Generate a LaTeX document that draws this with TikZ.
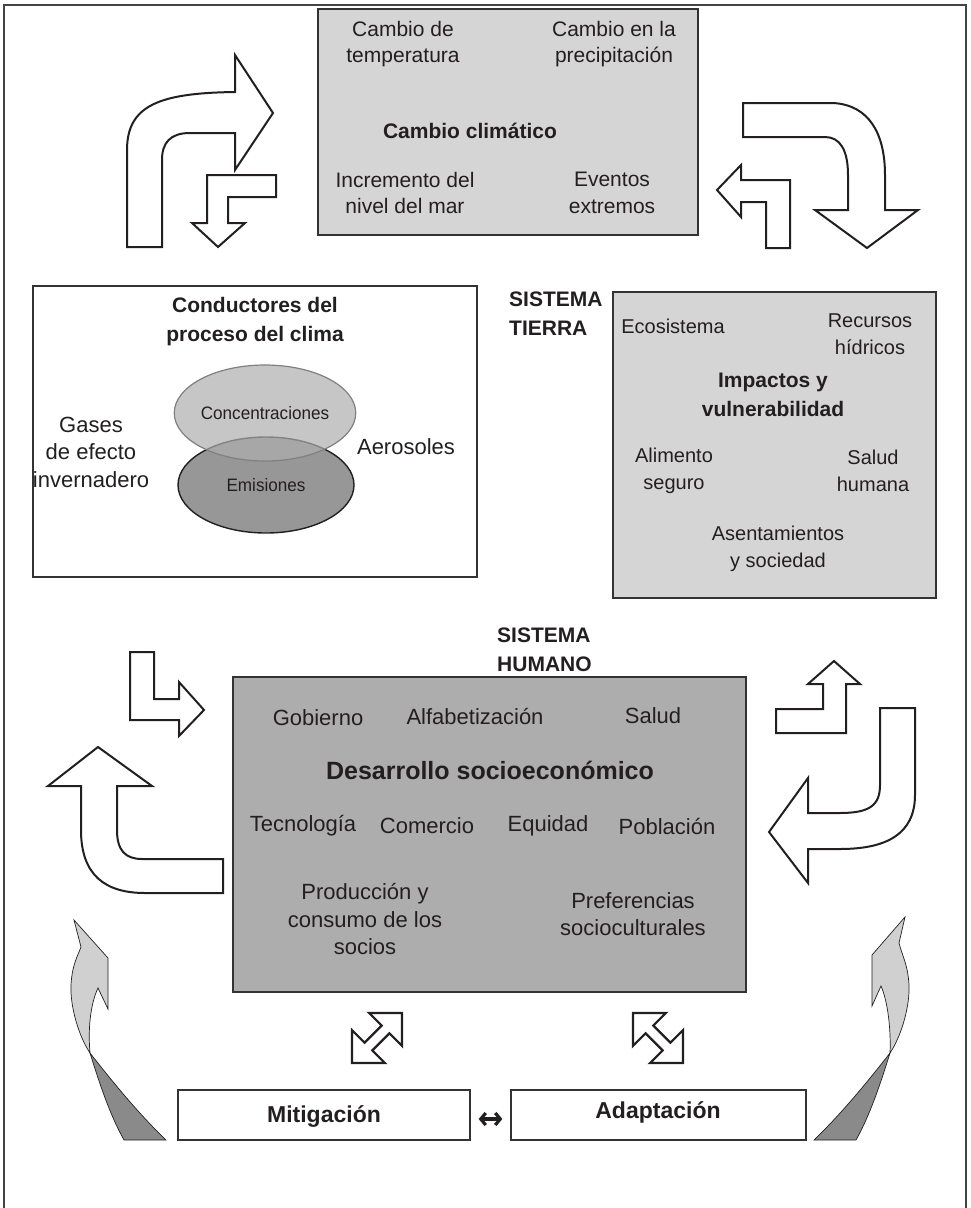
\documentclass[tikz,border=0pt]{standalone}
\usepackage{fontspec}
\usepackage{graphicx}
\setmainfont{Liberation Sans}
\usetikzlibrary{shapes.geometric,arrows.meta}

\definecolor{ink}{HTML}{231F20}
\definecolor{frameline}{HTML}{444444}
\definecolor{boxline}{HTML}{333333}
\definecolor{lightbox}{HTML}{D5D5D6}
\definecolor{darkbox}{HTML}{ADADAD}
\definecolor{concfill}{HTML}{AEAEAE}
\definecolor{emisfill}{HTML}{979797}
\definecolor{swirllight}{HTML}{D0D0D0}
\definecolor{swirldark}{HTML}{8A8A8A}

\tikzset{
  txt/.style={font=\fontsize{22}{27.5}\selectfont, text=ink, align=center, inner sep=0pt},
  txtS/.style={txt, font=\fontsize{20}{27.5}\selectfont},
  txtM/.style={txt, font=\fontsize{21}{26.5}\selectfont},
  ttl/.style={txt, font=\fontsize{21}{29}\selectfont\bfseries},
  panel/.style={draw=boxline, line width=1.3pt, inner sep=0pt},
  blockarrow/.style={draw=ink, fill=white, line width=2pt, line join=miter},
  swirl/.style={draw=ink, line width=0.7pt, fill=swirllight},
  swirltail/.style={draw=ink, line width=0.7pt, fill=swirldark},
  diagarrow/.style={draw=ink, fill=white, line width=2.2pt, line join=miter},
}

\begin{document}
\begin{tikzpicture}[x=1pt,y=-1pt]
\useasboundingbox (0,0) rectangle (970,1208);

% outer frame
\draw[frameline, line width=2pt] (4,1220) -- (4,5) -- (966,5) -- (966,1220);

% ---------- panels ----------
\node[panel, fill=lightbox, minimum width=380pt, minimum height=226pt] (clim) at (508,122) {};
\node[panel, fill=white, minimum width=444pt, minimum height=291pt] (drv) at (255,431.5) {};
\node[panel, fill=lightbox, minimum width=323pt, minimum height=306pt] (imp) at (774.5,445) {};
\node[panel, fill=darkbox, minimum width=513pt, minimum height=315pt] (dev) at (489.5,834.5) {};
\node[panel, fill=white, minimum width=292pt, minimum height=50pt] (mit) at (324,1115) {};
\node[panel, fill=white, minimum width=295pt, minimum height=50pt] (ada) at (658.5,1115) {};

% ---------- climate change ----------
\node[txtM] (temp) at (403,44) {Cambio de\\temperatura};
\node[txtM] (prec) at (614,44) {Cambio en la\\precipitación};
\node[ttl] (climT) at (470,131) {Cambio climático};
\node[txtM] (sea) at (405,193) {Incremento del\\nivel del mar};
\node[txtM] (ext) at (612,193) {Eventos\\extremos};

% ---------- drivers ----------
\node[ttl] (drvT) at (255,322) {Conductores del\\proceso del clima};
\node[ellipse, draw=ink, line width=1.4pt, fill=emisfill, minimum width=176pt, minimum height=96pt, inner sep=0pt,
      font=\fontsize{18}{22}\selectfont, text=ink] (emi) at (266,485) {\scalebox{0.95}[1]{Emisiones}};
\node[ellipse, draw=gray, line width=1.2pt, fill=concfill, fill opacity=0.7, text opacity=1, minimum width=174pt, minimum height=96pt, inner sep=0pt,
      font=\fontsize{18}{22}\selectfont, text=ink] (conc) at (265,413) {\scalebox{0.95}[1]{Concentraciones}};
\node[txt] (ghg) at (91,452) {Gases\\de efecto\\invernadero};
\node[txt] (aer) at (406,447) {Aerosoles};

% ---------- system labels ----------
\node[ttl, align=left, anchor=west] (earth) at (509,314) {SISTEMA\\TIERRA};
\node[ttl, align=left, anchor=west] (human) at (497,650) {SISTEMA\\HUMANO};

% ---------- impacts ----------
\node[txtS] (eco) at (673,326) {Ecosistema};
\node[txtS] (water) at (870,334) {Recursos\\hídricos};
\node[ttl] (impT) at (773,395) {Impactos y\\vulnerabilidad};
\node[txtS] (food) at (674,471) {Alimento\\seguro};
\node[txtS] (health) at (873,471) {Salud\\humana};
\node[txtS] (settle) at (778,549) {Asentamientos\\y sociedad};

% ---------- development ----------
\node[txt] (gov) at (318,718) {Gobierno};
\node[txt] (lit) at (475,716) {Alfabetización};
\node[txt] (hlth) at (653,716) {Salud};
\node[ttl, font=\fontsize{25}{29}\selectfont\bfseries] (devT) at (490,770) {Desarrollo socioeconómico};
\node[txt] (tech) at (303,826) {Tecnología};
\node[txt] (trade) at (427,826) {Comercio};
\node[txt] (equ) at (548,826) {Equidad};
\node[txt] (pop) at (667,826) {Población};
\node[txt] (prod) at (365,919) {Producción y\\consumo de los\\socios};
\node[txt] (pref) at (633,914) {Preferencias\\socioculturales};

% ---------- responses ----------
\node[ttl, font=\fontsize{23}{28}\selectfont\bfseries] (mitT) at (324,1116) {Mitigación};
\node[ttl, font=\fontsize{23}{28}\selectfont\bfseries] (adaT) at (658,1112) {Adaptación};
\draw[ink, line width=3.2pt, {Straight Barb[length=5pt,width=12pt,line width=3.2pt]}-{Straight Barb[length=5pt,width=12pt,line width=3.2pt]},
      shorten <=8pt, shorten >=8pt] ([yshift=-4pt]mit.east) -- ([yshift=-4pt]ada.west);

% ---------- block arrows, top ----------
\draw[blockarrow] (127,247) -- (127,150) .. controls (127,105) and (160,93) .. (235,92)
  -- (235,55) -- (273,113) -- (235,170) -- (235,133) -- (190,133)
  .. controls (170,133) and (162,143) .. (162,160) -- (162,247) -- cycle;
\draw[blockarrow] (276,175) -- (207,175) -- (207,223) -- (192,223) -- (218,247)
  -- (245,223) -- (228,223) -- (228,197) -- (276,197) -- cycle;

\draw[blockarrow] (743,103) -- (833,103) .. controls (870,105) and (885,135) .. (885,175)
  -- (885,210) -- (918,210) -- (867,248) -- (815,210) -- (848,210) -- (848,175)
  .. controls (848,150) and (840,137) .. (825,137) -- (743,137) -- cycle;
\draw[blockarrow] (790,248) -- (790,180) -- (741,180) -- (741,165) -- (717,190)
  -- (741,217) -- (741,202) -- (766,202) -- (766,248) -- cycle;

% ---------- block arrows, middle ----------
\draw[blockarrow] (130,652) -- (154,652) -- (154,699) -- (179,699) -- (179,682)
  -- (204,710) -- (179,736) -- (179,720) -- (130,720) -- cycle;
\draw[blockarrow] (98,747) -- (152,786) -- (117,786) -- (117,830)
  .. controls (117,850) and (125,859) .. (142,859) -- (223,859) -- (223,893) -- (145,893)
  .. controls (105,893) and (81,875) .. (81,830) -- (81,786) -- (48,786) -- cycle;

\draw[blockarrow] (776,709) -- (823,709) -- (823,684) -- (808,684) -- (834,661)
  -- (860,684) -- (846,684) -- (846,733) -- (776,733) -- cycle;
\draw[blockarrow] (880,708) -- (915,708) -- (915,795) .. controls (915,835) and (885,849) .. (840,849)
  -- (808,849) -- (808,883) -- (769,832) -- (808,778) -- (808,813) -- (840,813)
  .. controls (870,813) and (880,805) .. (880,785) -- cycle;

% ---------- double arrows between development and responses ----------
\begin{scope}[shift={(377,1038)}, rotate=45]
  \draw[diagarrow] (-35.4,0) -- (-12.1,-23.3) -- (-12.1,-5.5) -- (12.1,-5.5) -- (12.1,-23.3)
    -- (35.4,0) -- (12.1,23.3) -- (12.1,5.5) -- (-12.1,5.5) -- (-12.1,23.3) -- cycle;
\end{scope}
\begin{scope}[shift={(658,1038)}, rotate=-45]
  \draw[diagarrow] (-35.4,0) -- (-12.1,-23.3) -- (-12.1,-5.5) -- (12.1,-5.5) -- (12.1,-23.3)
    -- (35.4,0) -- (12.1,23.3) -- (12.1,5.5) -- (-12.1,5.5) -- (-12.1,23.3) -- cycle;
\end{scope}

% ---------- twisted arrows at the bottom corners ----------
\draw[swirltail] (90,1053) .. controls (115,1085) and (140,1115) .. (166,1140)
  -- (124,1140) .. controls (110,1115) and (100,1085) .. cycle;
\draw[swirl] (74,920) -- (108,958) -- (108,1009) -- (98,988)
  .. controls (90,1005) and (88,1030) .. (90,1053)
  .. controls (78,1035) and (70,1005) .. (71,985)
  .. controls (72,965) and (78,955) .. (81,947) -- cycle;

\draw[swirltail] (890,1053) .. controls (865,1085) and (840,1115) .. (814,1140)
  -- (856,1140) .. controls (870,1115) and (880,1085) .. cycle;
\draw[swirl] (905,917) -- (872,955) -- (872,1006) -- (881,986)
  .. controls (888,1002) and (891,1030) .. (890,1053)
  .. controls (902,1035) and (910,1005) .. (909,985)
  .. controls (908,965) and (902,955) .. (899,943) -- cycle;
\end{tikzpicture}
\end{document}
